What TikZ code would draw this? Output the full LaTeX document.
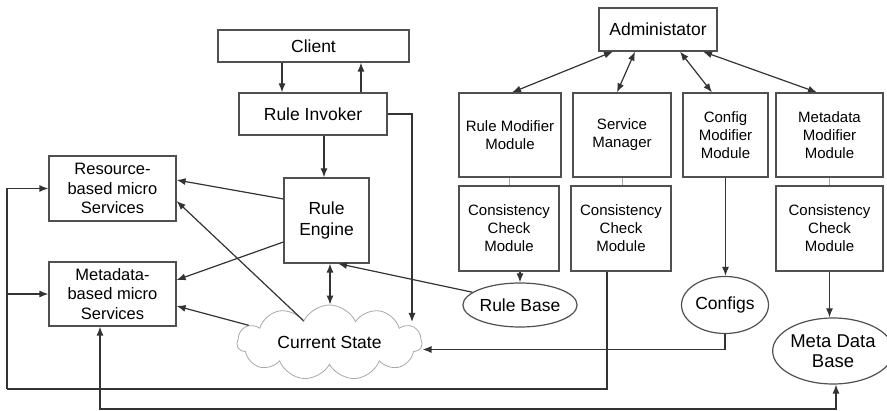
\documentclass[tikz,border=0pt]{standalone}
\usepackage{fontspec}
\setmainfont{Liberation Sans}
\usetikzlibrary{arrows.meta,shapes.geometric,shapes.symbols}
\definecolor{linec}{HTML}{333333}
\definecolor{boxc}{HTML}{505050}
\definecolor{cloudc}{HTML}{A8A8A8}
\begin{document}
\begin{tikzpicture}[x=1pt,y=-1pt,
  box/.style={draw=boxc, line width=1.2pt, fill=white, align=center, inner sep=0pt},
  bigtxt/.style={font=\fontsize{17.5}{21}\selectfont},
  svctxt/.style={font=\fontsize{16.5}{19.5}\selectfont},
  modtxt/.style={font=\fontsize{15}{18}\selectfont},
  ell/.style={draw=boxc, line width=1.2pt, fill=white, ellipse, align=center, inner sep=0pt},
  conn/.style={draw=linec, line width=1.2pt},
  arr/.style={conn, -{Latex[length=9pt,width=7pt]}},
  darr/.style={conn, {Latex[length=9pt,width=7pt]}-{Latex[length=9pt,width=7pt]}},
  thin/.style={draw=cloudc, line width=0.6pt}
]
\useasboundingbox (0,0) rectangle (887,411);

% left side
\node[box,bigtxt,minimum width=191pt,minimum height=32pt] (client) at (313.5,46) {Client};
\node[box,bigtxt,minimum width=148pt,minimum height=42pt] (invoker) at (313,114) {Rule Invoker};
\node[box,svctxt,minimum width=127pt,minimum height=65pt] (resource) at (112.5,188.5) {Resource-\\based micro\\Services};
\node[box,svctxt,minimum width=127pt,minimum height=64pt] (metadata) at (112.5,294) {Metadata-\\based micro\\Services};
\node[box,bigtxt,minimum width=85pt,minimum height=85pt] (engine) at (326.5,220.5) {Rule\\Engine};
\node[cloud, cloud puffs=11, cloud puff arc=130, cloud ignores aspect, draw=cloudc, line width=0.8pt, fill=white,
      minimum width=185pt, minimum height=75pt, inner sep=0pt, bigtxt] (cloud) at (329.5,342.5) {Current State};

% right side
\node[box,bigtxt,minimum width=118pt,minimum height=43pt] (admin) at (658,29.5) {Administator};
\node[box,modtxt,minimum width=102pt,minimum height=84pt] (rmm) at (510,135) {Rule Modifier\\Module};
\node[box,modtxt,minimum width=98pt,minimum height=84pt] (sm) at (622,135) {Service\\Manager};
\node[box,modtxt,minimum width=85pt,minimum height=84pt] (cmm) at (725.5,135) {Config\\Modifier\\Module};
\node[box,modtxt,minimum width=107pt,minimum height=84pt] (mmm) at (829.5,135) {Metadata\\Modifier\\Module};
\node[box,modtxt,minimum width=100pt,minimum height=85pt] (cc1) at (509,228.5) {Consistency\\Check\\Module};
\node[box,modtxt,minimum width=100pt,minimum height=85pt] (cc2) at (621,228.5) {Consistency\\Check\\Module};
\node[box,modtxt,minimum width=107pt,minimum height=85pt] (cc4) at (829.5,228.5) {Consistency\\Check\\Module};
\node[ell,bigtxt,minimum width=106pt,minimum height=44pt] (rulebase) at (520,305) {Rule Base};
\node[ell,bigtxt,minimum width=87pt,minimum height=57pt] (configs) at (725,305) {Configs};
\node[ell,font=\fontsize{18.5}{20}\selectfont,minimum width=108pt,minimum height=66pt] (mdb) at (833,351) {Meta Data\\Base};

% helper coordinates
\coordinate (xa) at (282,0);
\coordinate (xb) at (361,0);
\coordinate (xc) at (324,0);
\coordinate (xd) at (330,0);
\coordinate (ri) at (412,322);
\coordinate (lb) at (7,389);
\coordinate (bb) at (500,409);

% connectors left
\draw[arr] (client.south -| xa) -- (invoker.north -| xa);
\draw[arr] (invoker.north -| xb) -- (client.south -| xb);
\draw[arr] (invoker.south -| xc) -- (engine.north -| xc);
\draw[arr] (invoker.east) -| (ri);
\draw[arr] ([yshift=21.5pt]engine.west) -- ([yshift=8.5pt]resource.east);
\draw[arr] ([yshift=-21.5pt]engine.west) -- ([yshift=14pt]metadata.east);
\draw[arr] (cloud.140) -- ([yshift=-12.5pt]resource.east);
\draw[arr] (cloud.168) -- ([yshift=-12pt]metadata.east);
\draw[darr] (engine.south -| xd) -- (cloud.north -| xd);
\draw[arr] (rulebase.165) -- ([xshift=11.5pt]engine.south);

% loops
\draw[conn] ([xshift=-14pt]cc2.south) |- (lb);
\draw[arr] (lb) |- (resource.west);
\draw[arr] (lb |- metadata.west) -- (metadata.west);
\draw[darr] ([xshift=-12.5pt]metadata.south) |- (bb) -| ([xshift=3pt]mdb.south);
\draw[arr] (configs.south) |- ([yshift=-7pt]cloud.east);

% right connectors
\draw[darr] ([xshift=-45pt]admin.south) -- ([xshift=2pt]rmm.north);
\draw[darr] ([xshift=-23pt]admin.south) -- ([xshift=-5pt]sm.north);
\draw[darr] ([xshift=22pt]admin.south) -- ([xshift=-13.5pt]cmm.north);
\draw[darr] ([xshift=45pt]admin.south) -- ([xshift=-12.5pt]mmm.north);
\draw[thin] (rmm.south -| cc1.north) -- (cc1.north);
\draw[thin] (sm.south) -- (sm.south |- cc2.north);
\draw[thin] (mmm.south) -- (cc4.north);
\draw[arr] (cmm.south) -- (cmm.south |- configs.north);
\draw[arr] (cc1.south -| rulebase.north) -- (rulebase.north);
\draw[arr] (cc4.south) -- (cc4.south |- mdb.north);
\end{tikzpicture}
\end{document}
